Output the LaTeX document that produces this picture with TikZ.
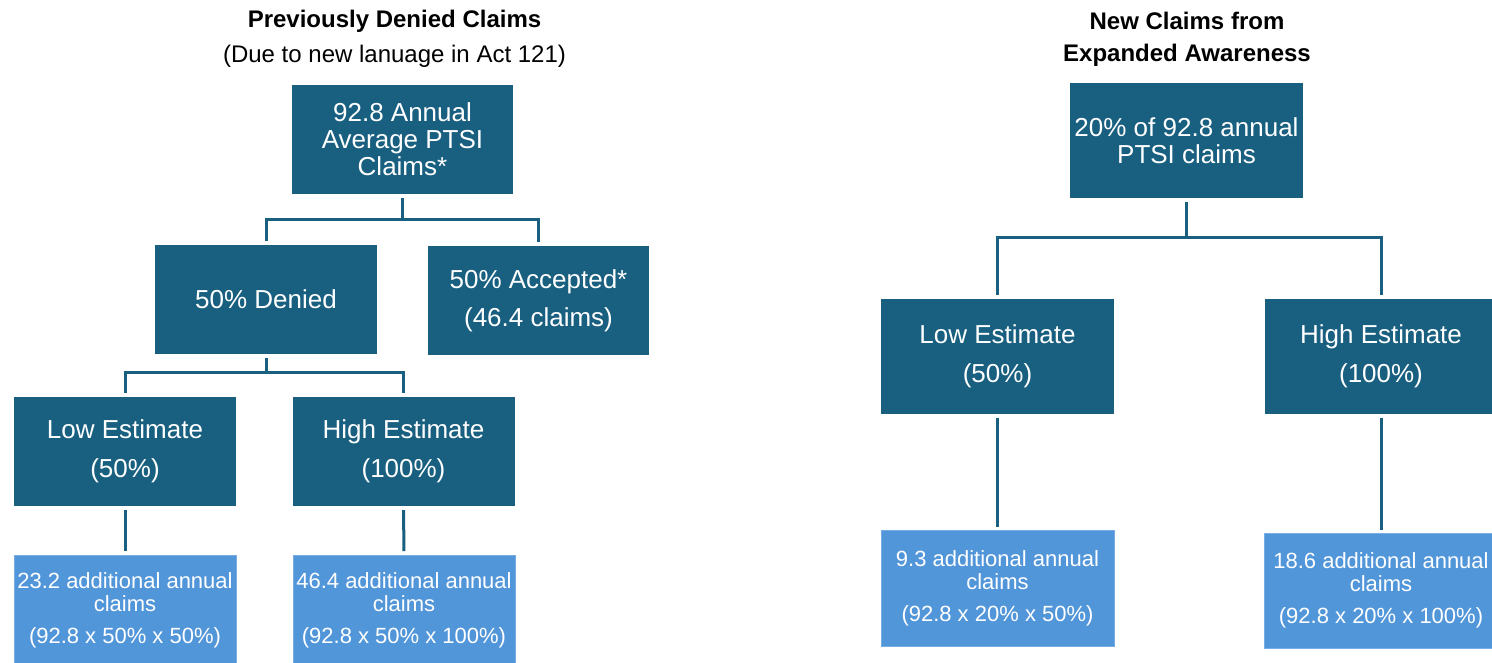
\documentclass[tikz,border=0pt]{standalone}
\usepackage{fontspec}
\setmainfont{Liberation Sans}
\definecolor{darkblue}{RGB}{24,95,128}
\definecolor{lightblue}{RGB}{82,150,218}
\definecolor{lightedge}{RGB}{120,172,228}
\tikzset{
  darkbox/.style={fill=darkblue, text=white, inner sep=0pt, align=center,
    font=\fontsize{26}{27}\selectfont},
  lightbox/.style={fill=lightblue, draw=lightedge, line width=0.8pt, text=white, inner sep=0pt, align=center,
    font=\fontsize{22}{23}\selectfont},
  conn/.style={draw=darkblue, line width=3pt},
  titletext/.style={font=\bfseries\fontsize{24}{28}\selectfont, align=center},
  subtext/.style={font=\fontsize{24}{28}\selectfont, align=center}
}
\begin{document}
\begin{tikzpicture}[x=1pt,y=-1pt]
\useasboundingbox (0,0) rectangle (1492,663);
\fill[white] (0,0) rectangle (1492,663);

% ---------- Left tree ----------
\node[titletext] (tL1) at (394.5,21) {Previously Denied Claims};
\node[subtext] (tL2) at (394.5,56) {(Due to new lanuage in Act 121)};

\node[darkbox, minimum width=221pt, minimum height=109pt] (topL) at (402.5,139.5)
  {92.8 Annual\\Average PTSI\\Claims*};
\node[darkbox, minimum width=222pt, minimum height=109pt] (denied) at (266,299.5)
  {50\% Denied};
\node[darkbox, minimum width=221pt, minimum height=109pt] (accepted) at (538.5,300.5)
  {50\% Accepted*\\[11pt](46.4 claims)};
\node[darkbox, minimum width=222pt, minimum height=109pt] (lowL) at (125,451.5)
  {Low Estimate\\[12pt](50\%)};
\node[darkbox, minimum width=222pt, minimum height=109pt] (highL) at (403.5,451.5)
  {High Estimate\\[12pt](100\%)};
\node[lightbox, minimum width=222pt, minimum height=109pt] (resL1) at (125,610)
  {23.2 additional annual\\claims\\[9pt](92.8 x 50\% x 50\%)};
\node[lightbox, minimum width=222pt, minimum height=109pt] (resL2) at (404,610)
  {46.4 additional annual\\claims\\[9pt](92.8 x 50\% x 100\%)};

\coordinate (jL1) at (402.5,220);
\coordinate (jL2) at (266,372);
\draw[conn, shorten <=4pt] (topL.south) -- (jL1);
\draw[conn, shorten >=4pt] (jL1) -| (denied.north);
\draw[conn, shorten >=4pt] (jL1) -| (accepted.north);
\draw[conn, shorten <=4pt] (denied.south) -- (jL2);
\draw[conn, shorten >=4pt] (jL2) -| (lowL.north);
\draw[conn, shorten >=4pt] (jL2) -| (highL.north);
\draw[conn, shorten <=4pt, shorten >=4pt] (lowL.south) -- (resL1.north);
\draw[conn, shorten <=4pt, shorten >=4pt] (highL.south) -- (resL2.north);

% ---------- Right tree ----------
\node[titletext] (tR1) at (1187,21) {New Claims from};
\node[titletext] (tR2) at (1187,55) {Expanded Awareness};

\node[darkbox, minimum width=233pt, minimum height=115pt] (topR) at (1186.5,140.5)
  {20\% of 92.8 annual\\PTSI claims};
\node[darkbox, minimum width=233pt, minimum height=115pt] (lowR) at (997.5,356)
  {Low Estimate\\[12pt](50\%)};
\node[darkbox, minimum width=233pt, minimum height=115pt] (highR) at (1381,356)
  {High Estimate\\[12pt](100\%)};
\node[lightbox, minimum width=233pt, minimum height=116pt] (resR1) at (997.5,588)
  {9.3 additional annual\\claims\\[9pt](92.8 x 20\% x 50\%)};
\node[lightbox, minimum width=233pt, minimum height=115pt] (resR2) at (1381,590.5)
  {18.6 additional annual\\claims\\[9pt](92.8 x 20\% x 100\%)};

\coordinate (jR) at (1186.5,238);
\draw[conn, shorten <=4pt] (topR.south) -- (jR);
\draw[conn, shorten >=3pt] (jR) -| (lowR.north);
\draw[conn, shorten >=3pt] (jR) -| (highR.north);
\draw[conn, shorten <=4pt, shorten >=3pt] (lowR.south) -- (resR1.north);
\draw[conn, shorten <=4pt, shorten >=3pt] (highR.south) -- (resR2.north);
\end{tikzpicture}
\end{document}
